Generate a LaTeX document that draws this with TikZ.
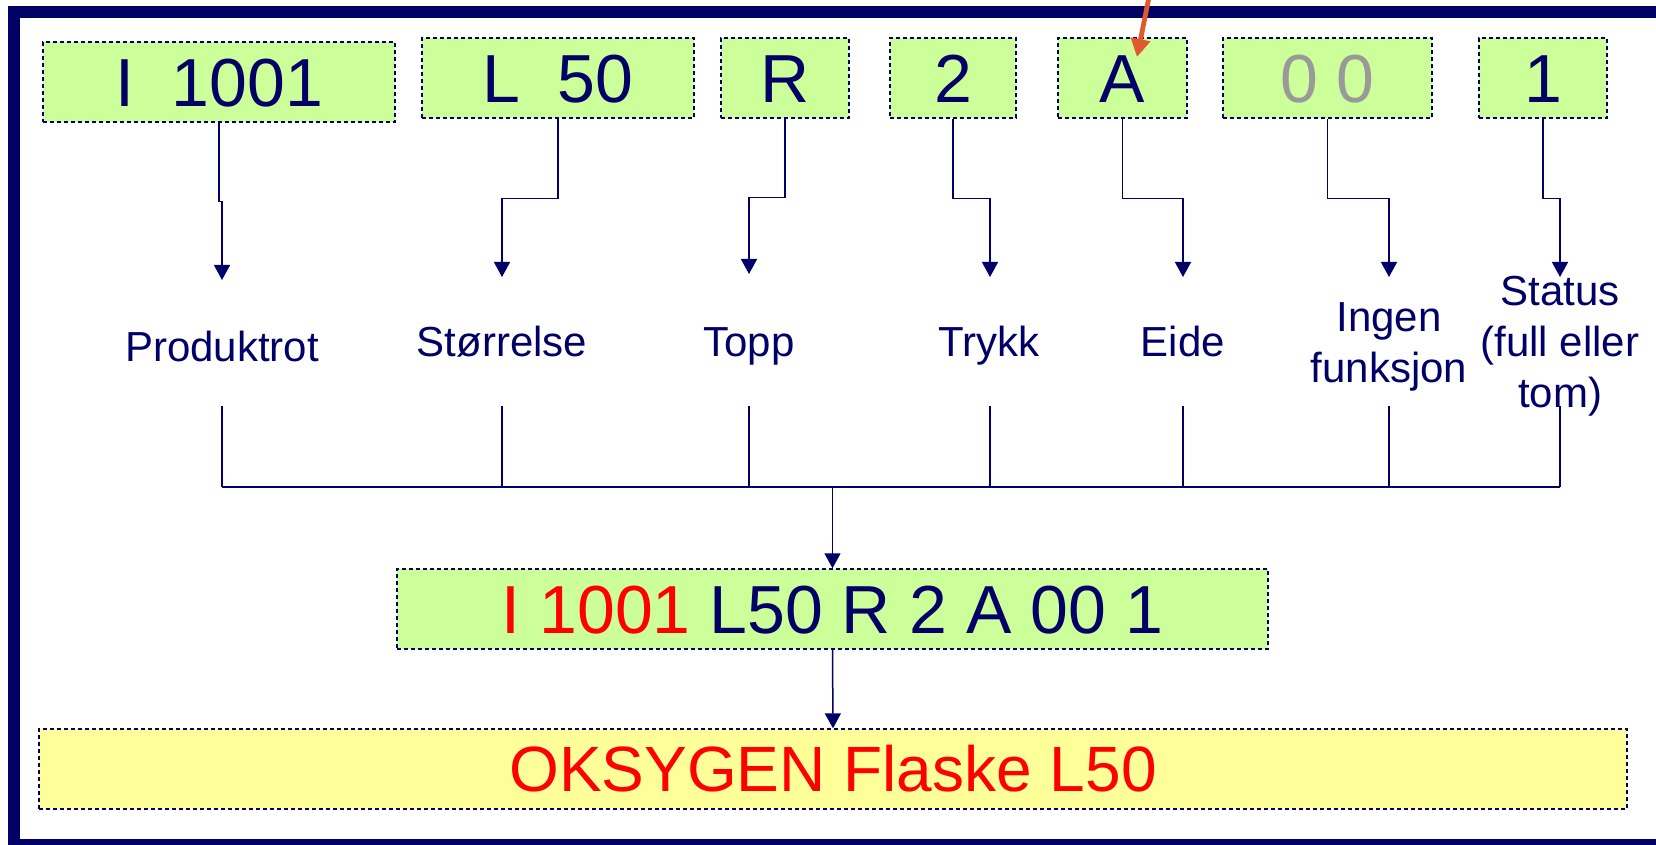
\documentclass[tikz,border=0pt]{standalone}
\usepackage{fontspec}
\setmainfont{Liberation Sans}
\usetikzlibrary{arrows.meta}
\definecolor{navy}{RGB}{0,0,102}
\definecolor{boxgreen}{RGB}{204,255,153}
\definecolor{boxyellow}{RGB}{255,255,153}
\definecolor{codered}{RGB}{255,0,0}
\definecolor{codegray}{RGB}{153,153,153}
\definecolor{markorange}{RGB}{224,90,43}
\tikzset{
  codebox/.style={draw=navy, line width=0.7pt, dash pattern=on 2.2pt off 1.3pt,
    fill=boxgreen, inner sep=0pt, minimum height=40pt, text=navy,
    font=\fontsize{34pt}{40pt}\selectfont, text height=24.3pt, text depth=0pt},
  resultbox/.style={codebox, fill=boxyellow, text=codered,
    font=\fontsize{32pt}{40pt}\selectfont, text height=22.9pt},
  lbl/.style={text=navy, font=\fontsize{21pt}{25.5pt}\selectfont, align=center,
    inner sep=0pt, anchor=base},
  conn/.style={draw=navy, line width=0.75pt},
  arr/.style={conn, -{Triangle[width=8pt,length=7.5pt]}},
  marker/.style={draw=markorange, line width=2.4pt, -{Triangle[width=9.5pt,length=9pt]}}
}
\begin{document}
\begin{tikzpicture}[x=0.5pt,y=-0.5pt]
\useasboundingbox (0,0) rectangle (1656,845);
\clip (0,0) rectangle (1656,845);
\fill[white] (0,0) rectangle (1656,845);
% frame
\draw[navy, line width=6pt] (14,12) rectangle (1690,845);

% top code boxes
\node[codebox, minimum width=176pt] (b1) at (219,82) {I\ \ 1001};
\node[codebox, minimum width=136pt] (b2) at (558,78) {L\ \ 50};
\node[codebox, minimum width=64pt] (b3) at (785,78) {R};
\node[codebox, minimum width=63pt] (b4) at (953,78) {2};
\node[codebox, minimum width=64.5pt] (b5) at (1122.5,78) {A};
\node[codebox, minimum width=104.5pt, text=codegray] (b6) at (1327.5,78) {0 0};
\node[codebox, minimum width=64pt] (b7) at (1543,78) {1};

% labels (base = baseline of last line)
\node[lbl] (l1) at (222,362) {Produktrot};
\node[lbl] (l2) at (502,357) {Størrelse};
\node[lbl] (l3) at (749,357) {Topp};
\node[lbl] (l4) at (989,357) {Trykk};
\node[lbl] (l5) at (1183,357) {Eide};
\node[lbl] (l6) at (1389,383) {Ingen\\funksjon};
\node[lbl] (l7) at (1560,408) {Status\\(full eller\\tom)};

% arrow tips above labels
\coordinate (t1) at (222,280);
\coordinate (t2) at (502,277);
\coordinate (t3) at (749,274);
\coordinate (t4) at (990,277);
\coordinate (t5) at (1183,277);
\coordinate (t6) at (1389,277);
\coordinate (t7) at (1560,277);

\draw[arr] (b1.south) -- ++(0,79) -| (t1);
\draw[arr] (b2.south) -- ++(0,80) -| (t2);
\draw[arr] (b3.south) -- ++(0,79) -| (t3);
\draw[arr] (b4.south) -- ++(0,80) -| (t4);
\draw[arr] (b5.south) -- ++(0,80) -| (t5);
\draw[arr] (b6.south) -- ++(0,80) -| (t6);
\draw[arr] (b7.south) -- ++(0,80) -| (t7);

% lower collector lines
\coordinate (u1) at (222,406);
\coordinate (u2) at (502,406);
\coordinate (u3) at (749,406);
\coordinate (u4) at (990,406);
\coordinate (u5) at (1183,406);
\coordinate (u6) at (1389,406);
\coordinate (u7) at (1560,406);
\coordinate (d1) at (222,487);
\coordinate (d2) at (502,487);
\coordinate (d3) at (749,487);
\coordinate (d4) at (990,487);
\coordinate (d5) at (1183,487);
\coordinate (d6) at (1389,487);
\coordinate (d7) at (1560,487);
\coordinate (dm) at (832.5,487);
\foreach \i in {1,...,7} {\draw[conn] (u\i) -- (d\i);}
\draw[conn] (d1) -- (d7);

% middle and result boxes
\node[codebox, minimum width=435.5pt] (mid) at (832.5,609)
  {\textcolor{codered}{I 1001} L50 R 2 A 00 1};
\node[resultbox, minimum width=794pt] (res) at (833,769) {OKSYGEN Flaske L50};

\draw[arr] (dm) -- (mid.north);
\draw[arr] (mid.south) -- (res.north);

% orange marker arrow
\coordinate (ostart) at (1150,-8);
\coordinate (otip) at (1137,57);
\draw[marker] (ostart) -- (otip);
\end{tikzpicture}
\end{document}
